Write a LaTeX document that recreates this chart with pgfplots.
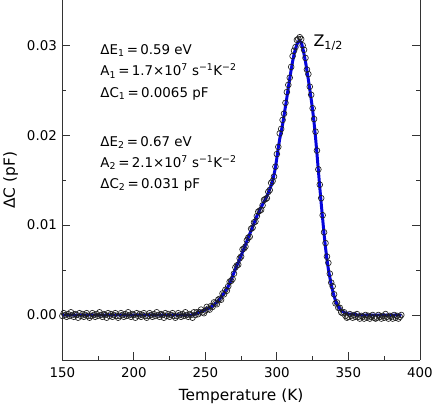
\documentclass[border=0pt]{standalone}
\usepackage{fontspec}
\setmainfont{DejaVu Sans}
\usepackage{pgfplots}
\pgfplotsset{compat=1.18}
\usepackage{pgfplotstable}
\definecolor{fitblue}{RGB}{5,5,220}
\definecolor{circ}{RGB}{30,30,30}

% T (K), fitted curve, measured signal (pF)
\pgfplotstableread{
T fit data
150 0 -0.0001
151 0 0.0002
152 0 0.0000
153 0 -0.0002
154 0 0.0001
155 0 -0.0001
156 0 0.0003
157 0 0.0000
158 0 -0.0002
159 0 0.0001
160 0 0.0000
161 0 -0.0003
162 0 0.0002
163 0 -0.0001
164 0 0.0001
165 0 -0.0002
166 0 0.0000
167 0 0.0002
168 0 -0.0001
169 0 -0.0003
170 0 -0.0001
171 0 0.0002
172 0 0.0000
173 0 -0.0002
174 0 0.0001
175 0 -0.0001
176 0 0.0003
177 0 0.0000
178 0 -0.0002
179 0 0.0001
180 0 0.0000
181 0 -0.0003
182 0 0.0002
183 0 -0.0001
184 0 0.0001
185 0 -0.0002
186 0 0.0000
187 0 0.0002
188 0 -0.0001
189 0 -0.0003
190 0 -0.0001
191 0 0.0002
192 0 0.0000
193 0 -0.0002
194 0 0.0001
195 0 -0.0001
196 0 0.0003
197 0 0.0000
198 0 -0.0002
199 0 0.0001
200 0 0.0000
201 0 -0.0003
202 0 0.0002
203 0 -0.0001
204 0 0.0001
205 0 -0.0002
206 0 0.0000
207 0 0.0002
208 0 -0.0001
209 0 -0.0003
210 0 -0.0001
211 0 0.0002
212 0 0.0000
213 0 -0.0002
214 0 0.0001
215 0 -0.0001
216 0 0.0003
217 0 0.0000
218 0 -0.0002
219 0 0.0001
220 0 0.0000
221 0 -0.0003
222 0 0.0002
223 0 -0.0001
224 0 0.0001
225 0 -0.0002
226 0 0.0000
227 0 0.0002
228 0 -0.0001
229 0 -0.0003
230 0 -0.0001
231 0 0.0002
232 0 0.0000
233 0 -0.0002
234 0 0.0001
235 0 -0.0001
236 0 0.0003
237 0 0.0000
238 0 -0.0002
239 0 0.0001
240 0 0.0000
241 0 -0.0003
242 0.0001 0.0003
243 0.0001 0.0000
244 0.0002 0.0003
245 0.0003 0.0001
246 0.0003 0.0003
247 0.0004 0.0006
248 0.0004 0.0003
249 0.0005 0.0002
250 0.0006 0.0005
251 0.0007 0.0009
252 0.0007 0.0007
253 0.0008 0.0006
254 0.0009 0.0010
255 0.0010 0.0009
256 0.0011 0.0014
257 0.0013 0.0013
258 0.0014 0.0012
259 0.0016 0.0017
260 0.0018 0.0018
261 0.0020 0.0017
262 0.0022 0.0024
263 0.0024 0.0023
264 0.0027 0.0028
265 0.0029 0.0027
266 0.0032 0.0032
267 0.0035 0.0037
268 0.0039 0.0038
269 0.0043 0.0040
270 0.0047 0.0046
271 0.0051 0.0053
272 0.0055 0.0055
273 0.0058 0.0056
274 0.0062 0.0063
275 0.0066 0.0065
276 0.0070 0.0073
277 0.0074 0.0074
278 0.0078 0.0076
279 0.0082 0.0083
280 0.0086 0.0086
281 0.0090 0.0087
282 0.0094 0.0096
283 0.0098 0.0097
284 0.0102 0.0103
285 0.0106 0.0104
286 0.0110 0.0110
287 0.0113 0.0115
288 0.0117 0.0116
289 0.0120 0.0117
290 0.0123 0.0122
291 0.0126 0.0128
292 0.0129 0.0129
293 0.0132 0.0130
294 0.0136 0.0137
295 0.0140 0.0139
296 0.0144 0.0147
297 0.0149 0.0149
298 0.0156 0.0154
299 0.0164 0.0165
300 0.0175 0.0179
301 0.0186 0.0187
302 0.0196 0.0202
303 0.0204 0.0207
304 0.0212 0.0217
305 0.0222 0.0224
306 0.0232 0.0236
307 0.0242 0.0248
308 0.0253 0.0256
309 0.0263 0.0264
310 0.0273 0.0276
311 0.0282 0.0288
312 0.0290 0.0294
313 0.0296 0.0298
314 0.0301 0.0306
315 0.0304 0.0307
316 0.0305 0.0309
317 0.0303 0.0307
318 0.0298 0.0300
319 0.0290 0.0295
320 0.0282 0.0286
321 0.0272 0.0273
322 0.0262 0.0268
323 0.0251 0.0254
324 0.0240 0.0245
325 0.0228 0.0230
326 0.0214 0.0218
327 0.0198 0.0204
328 0.0180 0.0183
329 0.0161 0.0162
330 0.0142 0.0145
331 0.0124 0.0130
332 0.0107 0.0111
333 0.0090 0.0092
334 0.0075 0.0080
335 0.0062 0.0065
336 0.0051 0.0058
337 0.0042 0.0046
338 0.0034 0.0036
339 0.0027 0.0032
340 0.0021 0.0023
341 0.0016 0.0013
342 0.0012 0.0014
343 0.0009 0.0008
344 0.0007 0.0008
345 0.0005 0.0003
346 0.0004 0.0002
347 0.0003 0.0003
348 0.0002 -0.0001
349 0.0002 -0.0003
350 0.0001 -0.0002
351 0.0001 0.0001
352 0.0001 -0.0001
353 0.0001 -0.0003
354 0.0001 0.0000
355 0.0001 -0.0002
356 0 0.0001
357 0 -0.0002
358 0 -0.0004
359 0 -0.0001
360 0 -0.0002
361 0 -0.0004
362 0 0.0000
363 0 -0.0003
364 0 -0.0001
365 0 -0.0004
366 0 -0.0002
367 0 0.0000
368 0 -0.0003
369 0 -0.0004
370 0 -0.0003
371 0 0.0000
372 0 -0.0002
373 0 -0.0004
374 0 -0.0001
375 0 -0.0003
376 0 0.0001
377 0 -0.0002
378 0 -0.0004
379 0 -0.0001
380 0 -0.0002
381 0 -0.0004
382 0 0.0000
383 0 -0.0003
384 0 -0.0001
385 0 -0.0004
386 0 -0.0002
387 0 0.0000
}\dltsdata

\begin{document}
\begin{tikzpicture}
\begin{axis}[
    scale only axis,
    width=360pt, height=362pt,
    xmin=150, xmax=400,
    ymin=-0.005, ymax=0.035,
    axis x line*=bottom,
    axis y line*=box,
    axis line style={-, line width=0.8pt, black!80},
    tick align=inside,
    xtick={150,200,...,400},
    ytick={0,0.01,0.02,0.03},
    minor x tick num=1,
    minor y tick num=1,
    major tick length=8pt,
    minor tick length=4pt,
    tick style={line width=0.8pt, black!80},
    ytick pos=both,
    yticklabel pos=left,
    scaled y ticks=false,
    yticklabel style={/pgf/number format/fixed,
      /pgf/number format/fixed zerofill,
      /pgf/number format/precision=2, xshift=-2pt},
    /pgf/number format/assume math mode=true,
    tick label style={font=\fontsize{13.5}{16}\selectfont},
    xticklabel style={yshift=-4pt},
    label style={font=\fontsize{15.5}{18}\selectfont},
    xlabel={Temperature (K)},
    ylabel={ΔC (pF)},
    xlabel style={yshift=-4pt},
    ylabel style={yshift=2pt},
    clip=true,
]
\addplot[only marks, mark=o, mark size=2.9pt,
  mark options={draw=circ, line width=0.65pt}] table[x=T, y=data] {\dltsdata};
\addplot[fitblue, line width=3pt, mark=none] table[x=T, y=fit] {\dltsdata};

\begin{scope}[every node/.style={anchor=base west, inner sep=0pt,
    font=\fontsize{13.5}{16}\selectfont}]
\node at (axis cs:176.5,0.02897) {ΔE\textsubscript{1}\,=\,0.59 eV};
\node at (axis cs:176.5,0.02660) {A\textsubscript{1}\,=\,1.7×10\textsuperscript{7} s\textsuperscript{−1}K\textsuperscript{−2}};
\node at (axis cs:176.5,0.02423) {ΔC\textsubscript{1}\,=\,0.0065 pF};
\node at (axis cs:176.5,0.01876) {ΔE\textsubscript{2}\,=\,0.67 eV};
\node at (axis cs:176.5,0.01644) {A\textsubscript{2}\,=\,2.1×10\textsuperscript{7} s\textsuperscript{−1}K\textsuperscript{−2}};
\node at (axis cs:176.5,0.01412) {ΔC\textsubscript{2}\,=\,0.031 pF};
\node[font=\fontsize{16}{19}\selectfont] at (axis cs:325.5,0.02982) {Z\textsubscript{1/2}};
\end{scope}
\end{axis}
\end{tikzpicture}
\end{document}
